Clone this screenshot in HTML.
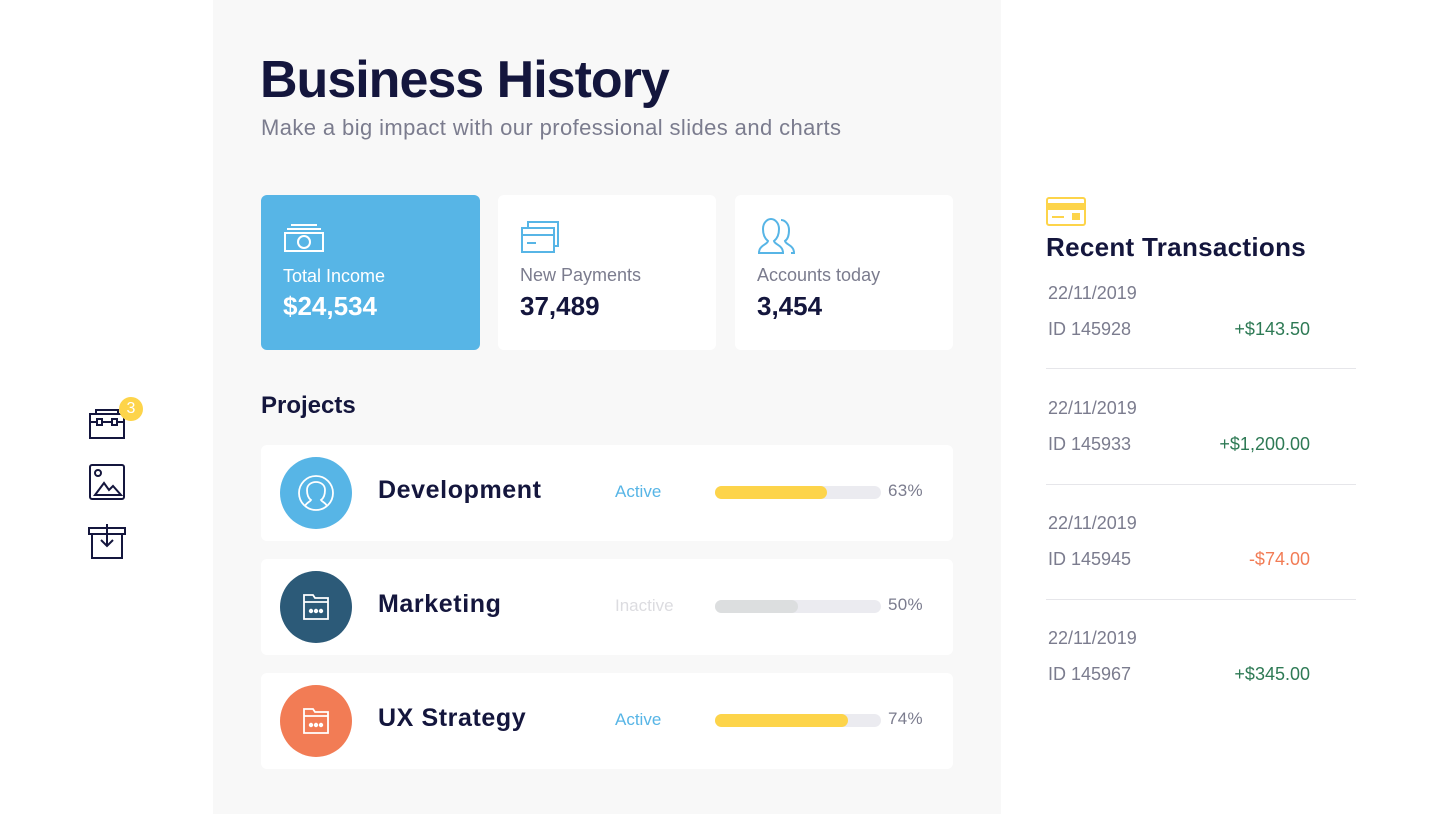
<!DOCTYPE html>
<html><head><meta charset="utf-8"><style>
*{margin:0;padding:0;box-sizing:border-box}
body{width:1445px;height:814px;background:#fff;font-family:"Liberation Sans",sans-serif;position:relative;overflow:hidden}
.abs{position:absolute}
.panel{left:213px;top:0;width:788px;height:814px;background:#f8f8f8}
.card{background:#fff;border-radius:6px}
.navy{color:#14163d}
.gray{color:#7b7c8e}
.row .c{position:absolute;left:19px;top:12px;width:72px;height:72px;border-radius:50%}
.row .t{position:absolute;left:117px;top:31px;font-size:25px;font-weight:bold;color:#14163d;letter-spacing:0.6px}
.row .s{position:absolute;left:354px;top:37px;font-size:17px}
.row .bar{position:absolute;left:454px;top:41px;width:166px;height:13px;border-radius:7px;background:#ebebf0}
.row .bar i{display:block;height:13px;border-radius:7px}
.row .p{position:absolute;left:627px;top:36px;font-size:17px;color:#7b7c8e;letter-spacing:0.3px}
.tx{position:absolute;left:1048px;width:262px;font-size:18px;color:#7b7c8e}
.tx .a{position:absolute;right:0;top:36px}
.tx .i{position:absolute;left:0;top:36px}
.sep{position:absolute;left:1046px;width:310px;height:1px;background:#e6e6ea}
</style></head><body>
<div class="abs panel"></div>
<div class="abs navy" style="left:260px;top:50px;font-size:52px;font-weight:bold;letter-spacing:-1px">Business History</div>
<div class="abs gray" style="left:261px;top:115px;font-size:22px;letter-spacing:0.4px">Make a big impact with our professional slides and charts</div>

<div class="abs" style="left:261px;top:195px;width:219px;height:155px;background:#57b5e6;border-radius:6px">
<svg class="abs" style="left:22px;top:28px" width="42" height="30" viewBox="0 0 42 30" fill="none" stroke="#fff" stroke-width="2"><line x1="8" y1="2" x2="34" y2="2"/><line x1="4" y1="6" x2="38" y2="6"/><rect x="2" y="10" width="38" height="18"/><circle cx="21" cy="19" r="6"/></svg>
<div class="abs" style="left:22px;top:71px;font-size:18px;color:#fff">Total Income</div>
<div class="abs" style="left:22px;top:96px;font-size:26px;font-weight:bold;color:#fff">$24,534</div></div>
<div class="abs card" style="left:498px;top:195px;width:218px;height:155px">
<svg class="abs" style="left:22px;top:25px" width="42" height="34" viewBox="0 0 42 34" fill="none" stroke="#57b5e6" stroke-width="2"><path d="M8 8V2h30v24h-4"/><rect x="2" y="8" width="32" height="24"/><line x1="2" y1="15" x2="34" y2="15"/><line x1="7" y1="23" x2="16" y2="23"/></svg>
<div class="abs gray" style="left:22px;top:70px;font-size:18px">New Payments</div>
<div class="abs navy" style="left:22px;top:96px;font-size:26px;font-weight:bold">37,489</div></div>
<div class="abs card" style="left:735px;top:195px;width:218px;height:155px">
<svg class="abs" style="left:22px;top:22px" width="42" height="38" viewBox="0 0 42 38" fill="none" stroke="#57b5e6" stroke-width="2"><path d="M2 36c0-8 8-8 9-12-4-3-5-8-5-12 0-6 4-10 8-10s8 4 8 10c0 4-1 9-5 12 1 4 9 4 9 12z"/><path d="M24 3c4 0 8 4 8 10 0 4-1 9-4 11 1 4 9 4 9 12h-3"/></svg>
<div class="abs gray" style="left:22px;top:70px;font-size:18px">Accounts today</div>
<div class="abs navy" style="left:22px;top:96px;font-size:26px;font-weight:bold">3,454</div></div>

<div class="abs navy" style="left:261px;top:392px;font-size:24px;font-weight:bold">Projects</div>

<div class="abs card row" style="left:261px;top:445px;width:692px;height:96px">
<div class="c" style="background:#57b5e6"><svg width="72" height="72" viewBox="0 0 72 72" fill="none" stroke="#fff" stroke-width="1.8"><circle cx="36" cy="36" r="17"/><path d="M25 49c2-4 5-4 6-6-3-2-4-6-4-10 0-5 4-8 9-8s9 3 9 8c0 4-1 8-4 10 1 2 4 2 6 6"/></svg></div>
<div class="t">Development</div><div class="s" style="color:#57b5e6">Active</div>
<div class="bar"><i style="width:112px;background:#fdd44a"></i></div><div class="p">63%</div></div>

<div class="abs card row" style="left:261px;top:559px;width:692px;height:96px">
<div class="c" style="background:#2c5a78"><svg width="72" height="72" viewBox="0 0 72 72" fill="none" stroke="#fff" stroke-width="1.8"><path d="M24 48V24h9l2 3h13v21z"/><line x1="24" y1="31" x2="48" y2="31"/><circle cx="31" cy="40" r="1.3" fill="#fff"/><circle cx="36" cy="40" r="1.3" fill="#fff"/><circle cx="41" cy="40" r="1.3" fill="#fff"/></svg></div>
<div class="t">Marketing</div><div class="s" style="color:#dcdce0">Inactive</div>
<div class="bar"><i style="width:83px;background:#dcdedf"></i></div><div class="p">50%</div></div>

<div class="abs card row" style="left:261px;top:673px;width:692px;height:96px">
<div class="c" style="background:#f27c55"><svg width="72" height="72" viewBox="0 0 72 72" fill="none" stroke="#fff" stroke-width="1.8"><path d="M24 48V24h9l2 3h13v21z"/><line x1="24" y1="31" x2="48" y2="31"/><circle cx="31" cy="40" r="1.3" fill="#fff"/><circle cx="36" cy="40" r="1.3" fill="#fff"/><circle cx="41" cy="40" r="1.3" fill="#fff"/></svg></div>
<div class="t">UX Strategy</div><div class="s" style="color:#57b5e6">Active</div>
<div class="bar"><i style="width:133px;background:#fdd44a"></i></div><div class="p">74%</div></div>

<svg class="abs" style="left:86px;top:396px" width="62" height="170" viewBox="0 0 62 170" fill="none" stroke="#14163d" stroke-width="2">
<rect x="4" y="18" width="34" height="24"/><path d="M10 18v-4h22v4"/><line x1="4" y1="26" x2="38" y2="26"/><rect x="11" y="23" width="5" height="6" fill="#fff"/><rect x="26" y="23" width="5" height="6" fill="#fff"/>
<rect x="4" y="69" width="34" height="34" rx="2"/><circle cx="12" cy="77" r="3"/><path d="M9 99l9-12 5 7 4-4 8 9z"/>
<path d="M3 138h36v-6h-36z"/><path d="M6 138v24h30v-24"/><path d="M21 128v22M15 144l6 6 6-6"/>
</svg>
<div class="abs" style="left:119px;top:397px;width:24px;height:24px;border-radius:50%;background:#fdd44a;color:#fff;font-size:16px;text-align:center;line-height:24px">3</div>

<svg class="abs" style="left:1046px;top:197px" width="40" height="29" viewBox="0 0 40 29" fill="none" stroke="#fdd44a" stroke-width="2"><rect x="1" y="1" width="38" height="27" rx="2"/><rect x="1" y="7" width="38" height="5" fill="#fdd44a"/><line x1="6" y1="20" x2="18" y2="20"/><rect x="27" y="17" width="6" height="5" fill="#fdd44a"/></svg>
<div class="abs navy" style="left:1046px;top:232px;font-size:26px;font-weight:bold;letter-spacing:0.3px">Recent Transactions</div>

<div class="tx" style="top:283px">22/11/2019<span class="i">ID 145928</span><span class="a" style="color:#2e7a55">+$143.50</span></div>
<div class="sep" style="top:368px"></div>
<div class="tx" style="top:398px">22/11/2019<span class="i">ID 145933</span><span class="a" style="color:#2e7a55">+$1,200.00</span></div>
<div class="sep" style="top:484px"></div>
<div class="tx" style="top:513px">22/11/2019<span class="i">ID 145945</span><span class="a" style="color:#f27c55">-$74.00</span></div>
<div class="sep" style="top:599px"></div>
<div class="tx" style="top:628px">22/11/2019<span class="i">ID 145967</span><span class="a" style="color:#2e7a55">+$345.00</span></div>
</body></html>
